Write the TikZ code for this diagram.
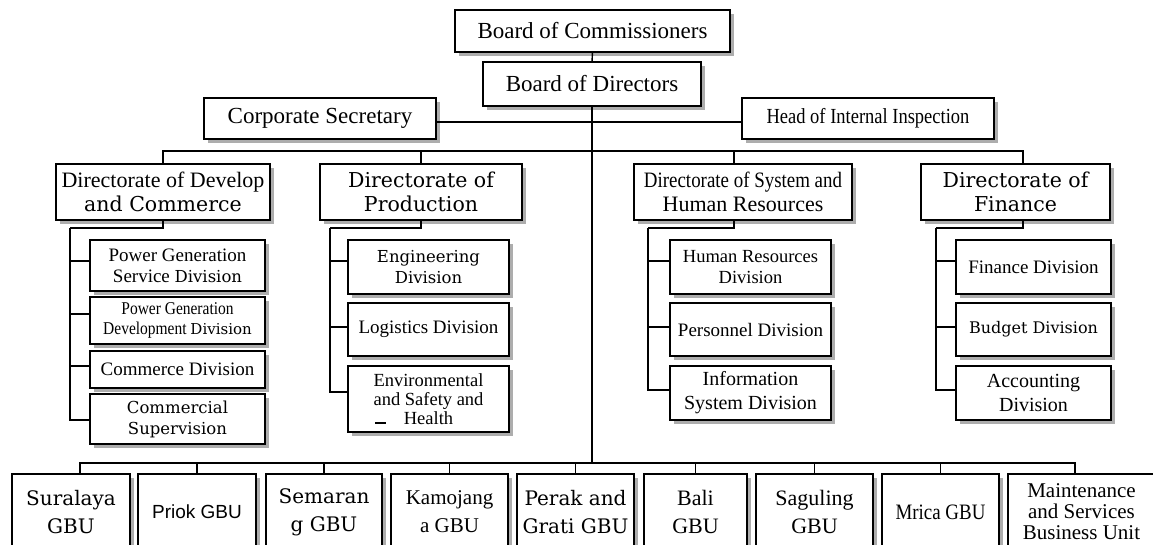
\documentclass[tikz,border=0pt]{standalone}
\usepackage{fontspec}
\setmainfont{Liberation Serif}
\newfontfamily\dvs{DejaVu Serif}
\newfontfamily\nserif[FakeStretch=0.86]{Liberation Serif}
\newfontfamily\lsans{Liberation Sans}
\usetikzlibrary{shadows}
\newcommand\fsz[2]{\fontsize{#1}{#2}\selectfont}

\begin{document}
\begin{tikzpicture}[x=1pt, y=-1pt,
  unit/.style={draw, line width=1.6pt, fill=white, inner sep=0pt, outer sep=0pt, align=center,
    drop shadow={shadow xshift=3.5pt, shadow yshift=-3.5pt, fill=black!32, opacity=1}},
  link/.style={line width=1.4pt},
  top/.style={unit, font=\fsz{23}{24}},
  dir/.style={unit, minimum height=56pt, font=\fsz{20}{24}},
  div/.style={unit, font=\fsz{19}{21}},
  gbu/.style={unit, minimum height=76pt, font=\fsz{21}{28}}]
\useasboundingbox (0,0) rectangle (1153,544);

% board and staff
\node[top, minimum width=275pt, minimum height=42pt] (boc) at (592.5,31) {Board of Commissioners};
\node[top, minimum width=218pt, minimum height=44pt] (bod) at (592,84) {Board of Directors};
\node[top, minimum width=232pt, minimum height=41pt] (sec) at (320,118.5) {Corporate Secretary};
\node[top, minimum width=252pt, minimum height=41pt, font=\nserif\fsz{21.5}{24}] (spi) at (868,118.5) {Head of Internal Inspection};

% directorates
\node[dir, minimum width=214pt] (ddc) at (163,192) {{\fsz{22}{24}Directorate of Develop}\\{\dvs\fsz{20.5}{24}and Commerce}};
\node[dir, minimum width=202pt, font=\dvs\fsz{20.5}{24}] (prd) at (421,192) {Directorate of\\Production};
\node[dir, minimum width=218pt, font=\fsz{22}{24}] (shr) at (743,192) {{\nserif Directorate of System and}\\Human Resources};
\node[dir, minimum width=189pt, font=\dvs\fsz{20.5}{24}] (fin) at (1015.5,192) {Directorate of\\Finance};

% divisions
\node[div, minimum width=175pt, minimum height=51pt] (psd) at (177.5,265.5) {Power Generation\\Service {\dvs\fsz{16.5}{21}Division}};
\node[div, minimum width=175pt, minimum height=47pt, font=\nserif\fsz{18}{20}] (pdd) at (177.5,320.5) {Power Generation\\Development {\dvs\fsz{15}{20}Division}};
\node[div, minimum width=175pt, minimum height=37pt] (cmd) at (177.5,369.5) {Commerce Division};
\node[div, minimum width=175pt, minimum height=50pt, font=\dvs\fsz{16.5}{21}] (csv) at (177.5,419) {Commercial\\Supervision};

\node[div, minimum width=161pt, minimum height=54pt, font=\dvs\fsz{16.5}{21}] (eng) at (428.5,267) {Engineering\\Division};
\node[div, minimum width=161pt, minimum height=53pt] (lgd) at (428.5,329.5) {Logistics Division};
\node[div, minimum width=161pt, minimum height=66pt, font=\fsz{18.5}{19}] (ehs) at (428.5,399) {Environmental\\and Safety and\\Health};

\node[div, minimum width=161pt, minimum height=54pt, font=\fsz{18.5}{21}] (hrd) at (750.5,267) {Human Resources\\Division};
\node[div, minimum width=161pt, minimum height=53pt] (psn) at (750.5,329.5) {Personnel Division};
\node[div, minimum width=161pt, minimum height=54pt, font=\fsz{20}{24}] (isd) at (750.5,393) {Information\\System Division};

\node[div, minimum width=155pt, minimum height=54pt] (fnd) at (1033.5,267) {Finance Division};
\node[div, minimum width=155pt, minimum height=53pt, font=\dvs\fsz{16}{20}] (bgd) at (1033.5,329.5) {Budget Division};
\node[div, minimum width=155pt, minimum height=54pt, font=\fsz{20}{24}] (acd) at (1033.5,393) {Accounting\\Division};
\draw[line width=2pt] (375,422.5) -- (386,422.5);

% business units
\node[gbu, minimum width=118pt, font=\dvs\fsz{20}{28}] (sur) at (71,512) {Suralaya\\GBU};
\node[gbu, minimum width=118pt, line width=2.8pt, font=\lsans\fsz{19}{24}] (prk) at (197,512) {Priok GBU};
\node[gbu, minimum width=116pt, font=\dvs\fsz{20}{28}] (smg) at (324,512) {Semaran\\g GBU};
\node[gbu, minimum width=117pt] (kmj) at (449.5,512) {Kamojang\\a GBU};
\node[gbu, minimum width=117pt, font=\dvs\fsz{20}{28}] (pgb) at (575.5,512) {Perak and\\Grati GBU};
\node[gbu, minimum width=103pt, font=\fsz{22}{28}] (bli) at (695.5,512) {Bali\\GBU};
\node[gbu, minimum width=117pt, font=\fsz{22}{28}] (sgl) at (814.5,512) {Saguling\\GBU};
\node[gbu, minimum width=117pt, font=\nserif\fsz{22}{28}] (mrc) at (940.5,512) {Mrica GBU};
\node[gbu, minimum width=147pt, font=\fsz{21}{21}] (msb) at (1081.5,512) {Maintenance\\and Services\\Business Unit};

\coordinate (b1) at (592,151);
\coordinate (b2) at (592,463);
\coordinate (k1) at (70,228);
\coordinate (k2) at (330,228);
\coordinate (k3) at (648,228);
\coordinate (k4) at (936,228);

\draw[link] (boc.south) -- (bod.north);
\draw[link] (bod.south) -- (b2);
\draw[link] ([yshift=-3.5pt]sec.east) -- ([yshift=-3.5pt]spi.west);
\foreach \d/\s/\k in {ddc/0/k1, prd/0/k2, shr/-9/k3, fin/7.5/k4}{
  \draw[link] ([xshift=\s pt]\d.north) |- (b1);
  \draw[link] ([xshift=\s pt]\d.south) |- (\k);
}
\foreach \c/\s/\k in {psd/4.5/k1, pdd/6.5/k1, cmd/3.5/k1, csv/-1/k1,
    eng/6/k2, lgd/2.5/k2, ehs/7/k2, hrd/6/k3, psn/2.5/k3, isd/3/k3,
    fnd/6/k4, bgd/2.5/k4, acd/3/k4}
  \draw[link] ([yshift=\s pt]\c.west) -| (\k);
\foreach \g/\s in {sur/9, prk/0, smg/0, kmj/0, pgb/0, bli/0, sgl/0, mrc/0, msb/-6.5}
  \draw[link] ([xshift=\s pt]\g.north) |- (b2);
\end{tikzpicture}
\end{document}
